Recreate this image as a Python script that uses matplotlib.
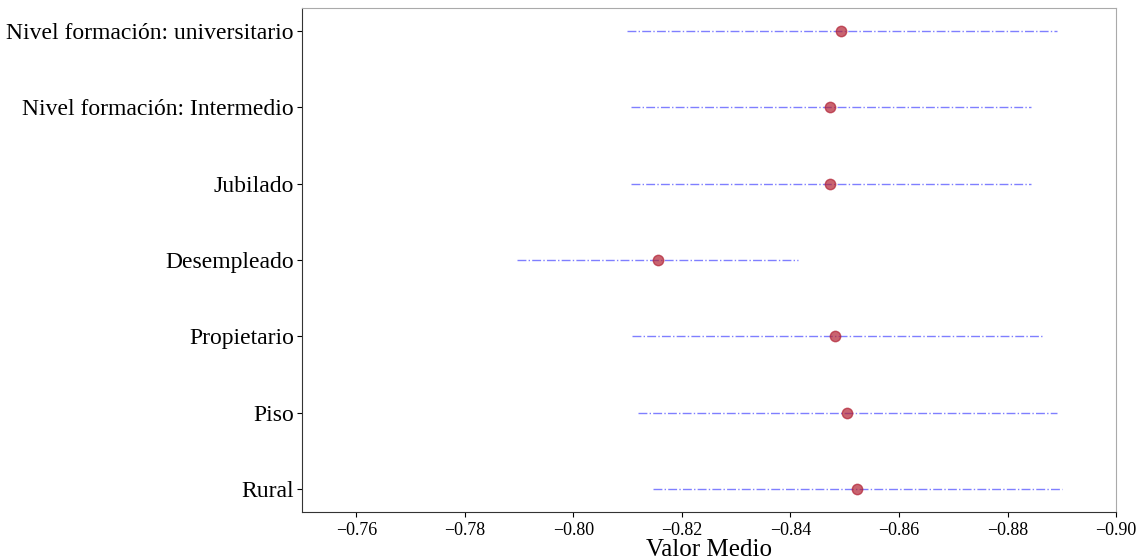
import matplotlib
matplotlib.use("Agg")
import matplotlib.pyplot as plt

categories = ["Rural", "Piso", "Propietario", "Desempleado", "Jubilado",
              "Nivel formación: Intermedio", "Nivel formación: universitario"]
means = [-0.8523, -0.8504, -0.8482, -0.8156, -0.8473, -0.8473, -0.8493]
lower = [-0.8147, -0.8119, -0.8108, -0.7896, -0.8106, -0.8106, -0.8099]
upper = [-0.8900, -0.8891, -0.8864, -0.8414, -0.8843, -0.8843, -0.8891]

plt.rcParams["font.family"] = ["Liberation Serif", "DejaVu Serif"]

fig = plt.figure(figsize=(11.4, 5.59), dpi=100)
ax = fig.add_axes([0.265, 0.084, 0.714, 0.902])
ypos = list(range(len(categories)))
ax.hlines(ypos, lower, upper, colors="blue", linestyles="-.", linewidth=1, alpha=0.5)
ax.plot(means, ypos, "o", color="#b22234", markersize=7.5, alpha=0.7, linestyle="none")

ax.set_yticks(ypos)
ax.set_yticklabels(categories, fontsize=17)
ax.tick_params(axis="y", pad=2.5)
ax.set_xlim(-0.75, -0.90)
ax.set_xticks([-0.76, -0.78, -0.80, -0.82, -0.84, -0.86, -0.88, -0.90])
ax.tick_params(axis="x", labelsize=13)
ax.set_xlabel("Valor Medio", fontsize=18, labelpad=0)
for s in ax.spines.values():
    s.set_color("#333333")
ax.spines["top"].set_color("#aaaaaa")
ax.spines["right"].set_color("#aaaaaa")

fig.savefig("out.png", dpi=100)
